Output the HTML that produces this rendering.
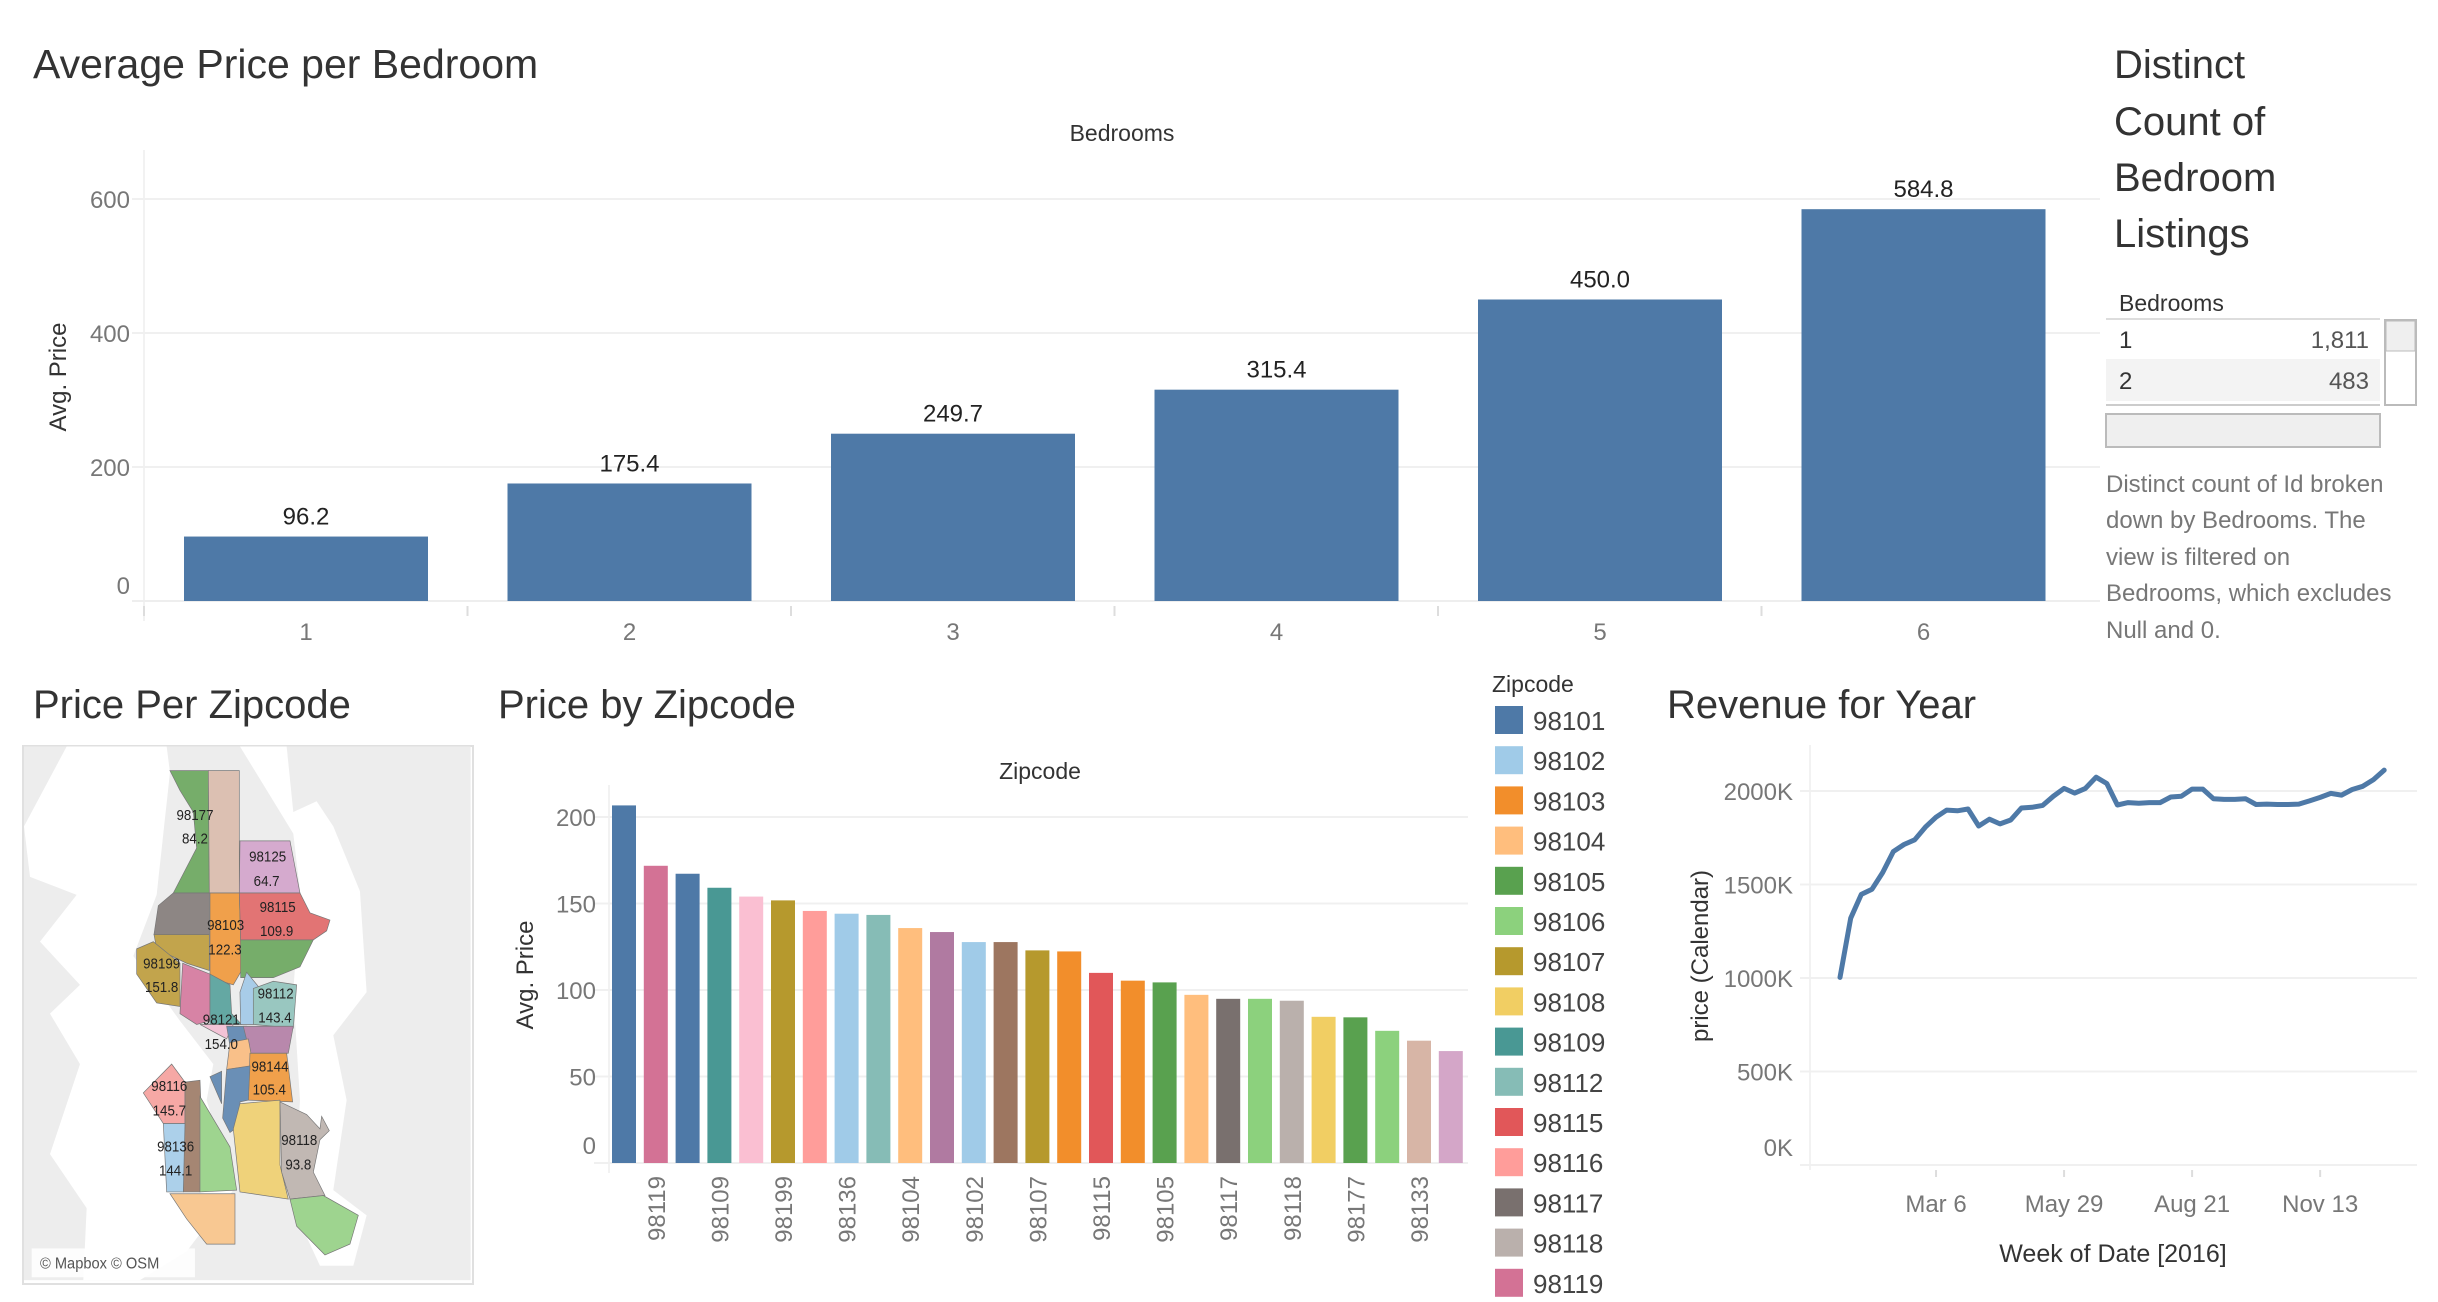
<!DOCTYPE html>
<html><head><meta charset="utf-8"><style>
html,body{margin:0;padding:0;background:#fff;}
svg{display:block;font-family:"Liberation Sans",sans-serif;}
</style></head><body>
<svg id="dash" width="2438" height="1302" viewBox="0 0 2438 1302" xmlns="http://www.w3.org/2000/svg">
<!-- Titles -->
<text x="33" y="78" font-size="41" fill="#333">Average Price per Bedroom</text>
<text x="1122" y="141" font-size="23" fill="#333" text-anchor="middle">Bedrooms</text>
<text transform="translate(66,377) rotate(-90)" font-size="24" fill="#333" text-anchor="middle">Avg. Price</text>
<g id="topChart"></g>

<!-- Right panel -->
<g transform="translate(-11,0)">
<text font-size="40" fill="#333">
<tspan x="2125" y="78">Distinct</tspan><tspan x="2125" y="135">Count of</tspan><tspan x="2125" y="191">Bedroom</tspan><tspan x="2125" y="247">Listings</tspan></text>
<text x="2130" y="311" font-size="23" fill="#333">Bedrooms</text>
<line x1="2117" y1="319" x2="2391" y2="319" stroke="#ddd" stroke-width="2"/>
<rect x="2117" y="359" width="274" height="42" fill="#f3f3f3"/>
<text x="2130" y="348" font-size="24" fill="#333">1</text>
<text x="2380" y="348" font-size="24" fill="#555" text-anchor="end">1,811</text>
<text x="2130" y="389" font-size="24" fill="#333">2</text>
<text x="2380" y="389" font-size="24" fill="#555" text-anchor="end">483</text>
<line x1="2117" y1="405" x2="2391" y2="405" stroke="#ccc" stroke-width="2"/>
<rect x="2396" y="320" width="31" height="85" fill="#fff" stroke="#bbb" stroke-width="2"/>
<rect x="2397" y="321" width="29" height="30" fill="#efefef" stroke="#bbb" stroke-width="1"/>
<rect x="2117" y="414" width="274" height="33" fill="#efefef" stroke="#bbb" stroke-width="2"/>
<text font-size="24" fill="#777">
<tspan x="2117" y="492">Distinct count of Id broken</tspan><tspan x="2117" y="528">down by Bedrooms. The</tspan><tspan x="2117" y="565">view is filtered on</tspan><tspan x="2117" y="601">Bedrooms, which excludes</tspan><tspan x="2117" y="638">Null and 0.</tspan></text>
</g>

<!-- Map -->
<text x="33" y="718" font-size="40" fill="#333">Price Per Zipcode</text>
<g>
<rect x="23" y="746" width="450" height="538" fill="#fff" stroke="#e0e0e0" stroke-width="2"/>
<g transform="translate(0,740) scale(0.3333,0.3601)">
<rect x="72" y="18" width="1340" height="1482" fill="#ededed"/>
<polygon fill="#fff" points="200,18 500,18 510,90 470,430 400,600 540,780 640,900 620,1000 700,1250 560,1420 420,1500 250,1500 260,1300 150,1150 240,900 150,760 240,680 120,560 230,430 90,380 72,240"/>
<polygon fill="#fff" points="720,18 860,18 880,200 950,170 1000,240 1080,420 1100,700 1000,820 1040,1000 1000,1250 1100,1320 1060,1460 960,1460 880,1300 900,1000 880,700 900,420 880,260"/>
<g stroke="#777" stroke-width="2">
<polygon fill="#76ad6a" points="510,85 625,85 628,425 520,425 590,300 580,200 540,140"/>
<polygon fill="#dcc0b2" points="625,85 718,85 718,425 628,425"/>
<polygon fill="#d5aace" points="720,280 870,280 900,425 718,425"/>
<polygon fill="#8d8684" points="520,425 628,425 628,540 462,540 475,460"/>
<polygon fill="#f0a04b" points="630,425 718,425 725,640 700,680 630,660"/>
<polygon fill="#e27474" points="718,425 900,425 930,480 990,500 980,530 940,555 722,555"/>
<polygon fill="#76ad6a" points="722,555 940,555 900,630 820,660 722,660"/>
<polygon fill="#c2a44c" points="462,540 628,540 628,640 560,620 470,580"/>
<polygon fill="#c2a44c" points="410,580 460,560 540,620 540,740 470,730 410,650"/>
<polygon fill="#d783a5" points="548,620 630,650 630,780 590,790 540,760"/>
<polygon fill="#64a8a3" points="630,650 690,680 695,760 725,790 630,790"/>
<polygon fill="#a8cce8" points="720,700 740,645 780,690 760,790 722,790"/>
<polygon fill="#99c7c0" points="760,690 820,670 890,680 880,800 760,790"/>
<polygon fill="#f3c3d6" points="600,790 700,790 680,830"/>
<polygon fill="#6a8fb6" points="680,795 740,795 740,830 690,850"/>
<polygon fill="#b888ac" points="730,795 880,795 865,870 750,870"/>
<polygon fill="#f9c089" points="690,840 745,830 760,905 680,915"/>
<polygon fill="#f0a04b" points="750,870 860,870 878,1005 745,1000"/>
<polygon fill="#6a8fb6" points="630,935 665,920 665,1010"/>
<polygon fill="#6a8fb6" points="680,915 750,905 745,1000 720,1005 720,1070 690,1090 668,1050"/>
<polygon fill="#f6a8a5" points="430,980 515,900 555,950 555,1065 490,1065"/>
<polygon fill="#a58673" points="555,950 600,945 605,1060 600,1255 550,1255 555,1065"/>
<polygon fill="#acd0ea" points="490,1065 555,1065 550,1255 500,1255"/>
<polygon fill="#9ed48f" points="600,990 690,1130 710,1250 600,1255"/>
<polygon fill="#efd27a" points="700,1080 720,1010 840,1000 840,1180 865,1275 720,1255"/>
<polygon fill="#c1b8b3" points="840,1005 920,1040 960,1080 965,1045 988,1085 960,1110 940,1200 975,1265 870,1275 845,1200"/>
<polygon fill="#f8c892" points="510,1260 705,1260 705,1400 620,1400 560,1330"/>
<polygon fill="#9ed48f" points="870,1275 970,1265 1075,1320 1050,1400 975,1430 890,1350"/>
</g>
<g font-size="40" fill="#222" text-anchor="middle">
<text x="585" y="222">98177</text><text x="585" y="288">84.2</text>
<text x="803" y="338">98125</text><text x="800" y="405">64.7</text>
<text x="833" y="478">98115</text><text x="830" y="545">109.9</text>
<text x="677" y="528">98103</text><text x="675" y="595">122.3</text>
<text x="485" y="635">98199</text><text x="485" y="700">151.8</text>
<text x="827" y="718">98112</text><text x="825" y="785">143.4</text>
<text x="664" y="790">98121</text><text x="664" y="858">154.0</text>
<text x="810" y="920">98144</text><text x="808" y="985">105.4</text>
<text x="508" y="975">98116</text><text x="508" y="1043">145.7</text>
<text x="527" y="1143">98136</text><text x="527" y="1210">144.1</text>
<text x="898" y="1125">98118</text><text x="895" y="1193">93.8</text>
</g>
<rect x="95" y="1412" width="490" height="80" fill="#fff" opacity="0.85"/>
<text x="120" y="1468" font-size="44" fill="#555">© Mapbox © OSM</text>
</g>
</g>

<!-- Price by Zipcode -->
<text x="498" y="718" font-size="40" fill="#333">Price by Zipcode</text>
<text x="1040" y="779" font-size="23" fill="#333" text-anchor="middle">Zipcode</text>
<text transform="translate(533,975) rotate(-90)" font-size="24" fill="#333" text-anchor="middle">Avg. Price</text>
<g id="zipChart"></g>

<!-- Legend -->
<g id="legend">
<text x="1492" y="692" font-size="23" fill="#333">Zipcode</text>
</g>

<!-- Revenue -->
<text x="1667" y="718" font-size="40" fill="#333">Revenue for Year</text>
<text transform="translate(1708,956) rotate(-90)" font-size="24" fill="#333" text-anchor="middle">price (Calendar)</text>
<text x="2113" y="1262" font-size="25" fill="#333" text-anchor="middle">Week of Date [2016]</text>
<g id="revChart"></g>
</svg>
<script>
// ---- Top chart data ----
const bedroomCats = ["1","2","3","4","5","6"];
const bedroomVals = [96.2,175.4,249.7,315.4,450.0,584.8];
const bedroomTicks = [0,200,400,600];

// ---- Zipcode chart data ----
const zipCats = ["98101","98119","98134","98109","98121","98199","98116","98136","98112","98104","98178","98102","98122","98107","98103","98115","98144","98105","98126","98117","98106","98118","98108","98177","98146","98133","98125"];
const zipVals = [206.7,171.8,167.2,159.1,154.0,151.8,145.7,144.1,143.4,135.8,133.5,127.7,127.7,122.9,122.3,109.9,105.4,104.4,97.2,94.9,94.9,93.8,84.5,84.2,76.4,70.7,64.7];
const zipColors = ["#4e79a7","#d37295","#4e79a7","#499894","#fabfd2","#b6992d","#ff9d9a","#a0cbe8","#86bcb6","#ffbe7d","#b07aa1","#a0cbe8","#9d7660","#b6992d","#f28e2b","#e15759","#f28e2b","#59a14f","#ffbe7d","#79706e","#8cd17d","#bab0ac","#f1ce63","#59a14f","#8cd17d","#d7b5a6","#d4a6c8"];
const zipTicks = [0,50,100,150,200];

// ---- Legend data ----
const legendZips = ["98101","98102","98103","98104","98105","98106","98107","98108","98109","98112","98115","98116","98117","98118","98119"];
const legendColors = ["#4e79a7","#a0cbe8","#f28e2b","#ffbe7d","#59a14f","#8cd17d","#b6992d","#f1ce63","#499894","#86bcb6","#e15759","#ff9d9a","#79706e","#bab0ac","#d37295"];

// ---- Revenue data (thousands, weekly from Jan 3 2016) ----
const revWeeks = [0,1,2,3,4,5,6,7,8,9,10,11,12,13,14,15,16,17,18,19,20,21,22,23,24,25,26,27,28,29,30,31,32,33,34,35,36,37,38,39,40,41,42,43,44,45,46,47,48,49,50,51];
const revVals = [1003,1320,1447,1475,1564,1676,1714,1739,1807,1860,1898,1894,1904,1813,1849,1824,1845,1909,1913,1923,1972,2014,1989,2014,2074,2040,1925,1938,1934,1938,1938,1968,1972,2010,2010,1959,1955,1955,1959,1928,1930,1928,1928,1930,1947,1966,1987,1978,2008,2025,2061,2112];
const revTicks = [0,500,1000,1500,2000];
const revDateLabels = ["Mar 6","May 29","Aug 21","Nov 13"];
const revDateWeeks = [9,21,33,45];

const NS="http://www.w3.org/2000/svg";
function mk(parent,tag,attrs,text){const e=document.createElementNS(NS,tag);for(const k in attrs)e.setAttribute(k,attrs[k]);if(text!==undefined)e.textContent=text;parent.appendChild(e);return e;}

// Top chart
(function(){
  const g=document.getElementById('topChart');
  const x0=144,x1=2100,step=323.5,pad=40,yB=601,yT=199,vmax=600;
  const y=v=>yB-(v/vmax)*(yB-yT);
  mk(g,'line',{x1:x0,y1:150,x2:x0,y2:yB+20,stroke:'#f2f2f2','stroke-width':2});
  bedroomTicks.forEach(t=>{
    const l=mk(g,'line',{x1:x0-12,y1:y(t),x2:x1,y2:y(t),stroke:t===0?'#eee':'#f0f0f0','stroke-width':2});
    
    
    const tx=mk(g,'text',{x:130,y:y(t)+9-(t===0?16:0),'font-size':24,fill:'#777','text-anchor':'end'},String(t));
    
    
  });
  bedroomCats.forEach((c,i)=>{
    const bx=x0+i*step;
    mk(g,'line',{x1:bx,y1:yB+5,x2:bx,y2:yB+15,stroke:'#ddd','stroke-width':2});
    const r=mk(g,'rect',{x:bx+pad,y:y(bedroomVals[i]),width:244,height:yB-y(bedroomVals[i]),fill:'#4e79a7'});
    
    
    const lb=mk(g,'text',{x:bx+pad+122,y:y(bedroomVals[i])-12,'font-size':24,fill:'#222','text-anchor':'middle'},bedroomVals[i].toFixed(1));
    
    
    const xl=mk(g,'text',{x:bx+pad+122,y:640,'font-size':24,fill:'#777','text-anchor':'middle'},c);
    
    
  });
})();

// Zip chart
(function(){
  const g=document.getElementById('zipChart');
  const x0=609,x1=1468,step=31.8,bw=24,yB=1163,yT=817,vmax=200;
  const y=v=>yB-(v/vmax)*(yB-yT);
  mk(g,'line',{x1:x0,y1:785,x2:x0,y2:yB+10,stroke:'#f2f2f2','stroke-width':2});
  zipTicks.forEach(t=>{
    const l=mk(g,'line',{x1:x0-15,y1:y(t),x2:x1,y2:y(t),stroke:'#f0f0f0','stroke-width':2});
    
    
    const tx=mk(g,'text',{x:596,y:y(t)+9-(t===0?18:0),'font-size':24,fill:'#777','text-anchor':'end'},String(t));
    
    
  });
  zipCats.forEach((c,i)=>{
    const cx=x0+15+i*step;
    const r=mk(g,'rect',{x:cx-bw/2,y:y(zipVals[i]),width:bw,height:yB-y(zipVals[i]),fill:zipColors[i]});
    
    
    if(i%2===1){
      const t=mk(g,'text',{transform:`translate(${cx+9},1176) rotate(-90)`,'font-size':24,fill:'#777','text-anchor':'end'},c);
      
      
    }
  });
})();

// Legend
(function(){
  const g=document.getElementById('legend');
  legendZips.forEach((z,i)=>{
    const yy=706+i*40.2;
    const r=mk(g,'rect',{x:1495,y:yy,width:28,height:28,fill:legendColors[i]});
    
    
    const t=mk(g,'text',{x:1533,y:yy+24,'font-size':26,fill:'#444'},z);
    
    
  });
})();

// Revenue chart
(function(){
  const g=document.getElementById('revChart');
  const x0=1810,x1=2417,yB=1165,yT=791,vmax=2000;
  const x=w=>1840+w*10.67;
  const y=v=>yB-(v/vmax)*(yB-yT);
  mk(g,'line',{x1:x0,y1:745,x2:x0,y2:yB+5,stroke:'#f2f2f2','stroke-width':2});
  revTicks.forEach(t=>{
    const l=mk(g,'line',{x1:1800,y1:y(t),x2:x1,y2:y(t),stroke:'#f0f0f0','stroke-width':2});
    
    
    const tx=mk(g,'text',{x:1793,y:y(t)+9-(t===0?18:0),'font-size':24,fill:'#777','text-anchor':'end'},t+'K');
    
    
  });
  revDateLabels.forEach((d,i)=>{
    const xx=x(revDateWeeks[i]);
    mk(g,'line',{x1:xx,y1:yB+5,x2:xx,y2:yB+12,stroke:'#ddd','stroke-width':2});
    const t=mk(g,'text',{x:xx,y:1212,'font-size':24,fill:'#777','text-anchor':'middle'},d);
    
    
  });
  const pts=revWeeks.map((w,i)=>x(w).toFixed(1)+','+y(revVals[i]).toFixed(1)).join(' ');
  const p=mk(g,'polyline',{points:pts,fill:'none',stroke:'#4e79a7','stroke-width':5,'stroke-linejoin':'round','stroke-linecap':'round'});
  
  
})();
</script>
</body></html>
